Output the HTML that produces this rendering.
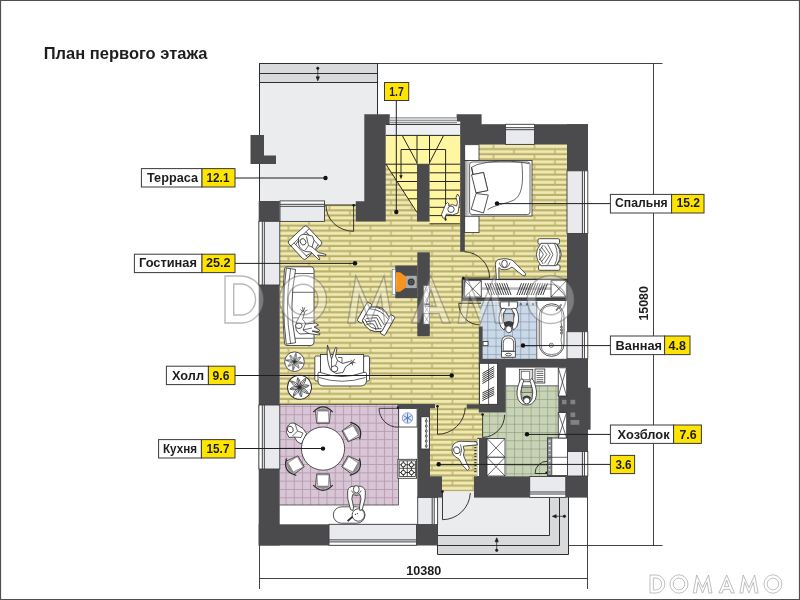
<!DOCTYPE html>
<html lang="ru">
<head>
<meta charset="utf-8">
<title>План первого этажа</title>
<style>
html,body{margin:0;padding:0;background:#fff;width:800px;height:600px;overflow:hidden}
svg{display:block;position:absolute;left:0;top:0;will-change:transform;opacity:.9999}
text{font-family:"Liberation Sans",sans-serif;font-weight:bold;fill:#1d1d1f}
.w{fill:#4b4a4d}
.ln{stroke:#2a2a2c;stroke-width:1;fill:none}
.th{stroke:#2a2a2c;stroke-width:.7;fill:none}
.fw{fill:#fff;stroke:#2a2a2c;stroke-width:.8}
.win{fill:#e9eaec;stroke:#8d8e91;stroke-width:.6}
.lab{fill:#fff;stroke:#3a3a3c;stroke-width:1}
.yl{fill:#ffe400;stroke:#3a3a3c;stroke-width:1}
</style>
</head>
<body>
<svg width="800" height="600" viewBox="0 0 800 600">
<defs>
  <!-- wood floor -->
  <pattern id="wood" x="288.5" y="216.4" width="41" height="10.2" patternUnits="userSpaceOnUse">
    <rect width="41" height="10.2" fill="#b9af6c"/>
    <rect x="0.7" y="0" width="39.6" height="3.05" fill="#f0e9b0"/>
    <rect x="-19.8" y="5.1" width="39.6" height="3.05" fill="#f0e9b0"/>
    <rect x="21.2" y="5.1" width="39.6" height="3.05" fill="#f0e9b0"/>
  </pattern>
  <!-- kitchen tiles -->
  <pattern id="kit" x="285.5" y="406" width="8.2" height="8.3" patternUnits="userSpaceOnUse">
    <rect width="8.2" height="8.3" fill="#d8c5d5"/>
    <path d="M0.5 0V8.3M0 0.5H8.2" stroke="#b89db2" stroke-width="1" fill="none"/>
  </pattern>
  <!-- bath tiles -->
  <pattern id="bath" x="487.3" y="305.2" width="8.25" height="8.12" patternUnits="userSpaceOnUse">
    <rect width="8.25" height="8.12" fill="#c9d9e9"/>
    <path d="M0.5 0V8.12M0 0.5H8.25" stroke="#8695a4" stroke-width=".65" fill="none"/>
  </pattern>
  <!-- utility tiles -->
  <pattern id="util" x="514" y="407.2" width="8.3" height="8.27" patternUnits="userSpaceOnUse">
    <rect width="8.3" height="8.27" fill="#c7d3b4"/>
    <path d="M0.5 0V8.27M0 0.5H8.3" stroke="#8b977e" stroke-width=".6" fill="none"/>
  </pattern>

  <g id="arm">
    <rect class="fw" x="-10.5" y="-15.8" width="21.5" height="5.4" rx="1.3"/>
    <rect class="fw" x="-10" y="10.4" width="21.5" height="5.4" rx="1.3"/>
    <path class="fw" d="M-7.5 -11.2Q-16.8 0 -7.5 11.2H7.5Q18 0 7.5 -11.2Z"/>
    <path class="th" d="M-5.3 -9.6Q-13.3 0 -5.3 9.6" stroke-width=".6"/>
    <path class="th" d="M6 -11Q11.5 0 6 11M8.5 -10.3Q14.5 0 8.5 10.3" stroke-width=".6"/>
    <path class="th" stroke-width=".7" d="M-9.5 -5.5Q-7 -4.5 -5.2 0Q-7 4.5 -9.5 5.5M-7 -7.3L-1.6 0L-7 7.3M-4 -8.8L1.8 0L-4 8.8M-0.8 -10.3L4.5 0L-0.8 10.3"/>
  </g>
  <g id="kchair">
    <path d="M-7.3 -5.5Q0 -11.5 7.3 -5.5L5.6 -5.4H-5.6Z" fill="#8e8e90"/>
    <path d="M-9.7 -4.6Q0 -15 9.7 -4.6" fill="none" stroke="#2a2a2c" stroke-width="1.3"/>
    <path class="th" d="M-7.6 -5.7L-6.3 6.6H6.3L7.6 -5.7" stroke="#3a3a3c"/>
    <path d="M-5.3 -5.6H5.3L6 5.6H-6Z" fill="#fff" stroke="#6d6e71" stroke-width=".6"/>
  </g>
  <g id="plant">
    <circle r="10" fill="#fff" stroke="#2a2a2c" stroke-width=".8"/>
    <path d="M0 0Q4.1 3.4 9.2 1.6Q5.0 -1.8 0 0M0 0L7.8 1.4M0 0Q0.2 4.8 4.7 6.7Q4.5 1.9 0 0M0 0L4.0 5.7M0 0Q-3.4 4.1 -1.6 9.2Q1.8 5.0 0 0M0 0L-1.4 7.8M0 0Q-4.8 0.2 -6.7 4.7Q-1.9 4.5 0 0M0 0L-5.7 4.0M0 0Q-4.1 -3.4 -9.2 -1.6Q-5.0 1.8 0 0M0 0L-7.8 -1.4M0 0Q-0.2 -4.8 -4.7 -6.7Q-4.5 -1.9 0 0M0 0L-4.0 -5.7M0 0Q3.4 -4.1 1.6 -9.2Q-1.8 -5.0 0 0M0 0L1.4 -7.8M0 0Q4.8 -0.2 6.7 -4.7Q1.9 -4.5 0 0M0 0L5.7 -4.0" fill="#fff" stroke="#2a2a2c" stroke-width=".55"/>
  </g>
  <filter id="blr" x="-5%" y="-10%" width="110%" height="120%"><feGaussianBlur stdDeviation="1.5"/></filter>
  <g id="wD"><path fill-rule="evenodd" d="M0 0H34A48 50 0 0 1 34 100H0ZM18.5 17V83H34A31 33 0 0 0 34 17Z"/></g>
  <g id="wO"><path fill-rule="evenodd" d="M50 -1A50 51 0 1 0 50 101A50 51 0 1 0 50 -1ZM50 17.5A32 32.5 0 1 1 50 82.5A32 32.5 0 1 1 50 17.5Z"/></g>
  <g id="wM"><path d="M0 100L17.5 0L47.5 70L77.5 0L95 100H79L70.5 40L47.5 100L24.5 40L16 100Z"/></g>
  <g id="wA"><path fill-rule="evenodd" d="M0 100L41 0L82 100H65.5L58.5 80H23.5L16.5 100ZM29.5 64.5H52.5L41 28Z"/></g>
  <g id="wms">
    <use href="#wD" x="0"/><use href="#wO" x="111"/><use href="#wM" transform="translate(240 0) scale(1.1 1)"/><use href="#wA" transform="translate(383 0) scale(1.05 1)"/><use href="#wM" transform="translate(499 0) scale(1.07 1)"/><use href="#wO" x="633"/>
  </g>
  <g id="wm">
    <use href="#wD" x="0"/><use href="#wO" x="116"/><use href="#wM" x="261"/><use href="#wA" x="397"/><use href="#wM" x="496"/><use href="#wO" x="643"/>
  </g>
</defs>

<!-- page -->
<rect x="0" y="0" width="800" height="600" fill="#fff"/>

<!-- ===== TERRACE ===== -->
<g id="terrace">
  <rect x="259" y="63" width="118" height="138.5" fill="#ebecee"/>
  <rect x="259" y="63" width="118" height="19.5" fill="#d9dadc"/>
  <path d="M259 63.5H377.5M259 73.5H377.5M259 82.5H377.5M259.5 63V201M377.5 63V115" stroke="#2f2f31" stroke-width="1" fill="none"/>
</g>

<!-- ===== PORCH ===== -->
<g id="porch">
  <rect x="437.5" y="497" width="131" height="57.5" fill="#d9dadc"/>
  <rect x="437.5" y="497" width="112" height="38.5" fill="#ebecee"/>
  <path d="M437.5 497V554.5H568.5V497M437.5 535.5H549.5V497M437.5 545.5H559.5V497" stroke="#2f2f31" stroke-width="1" fill="none"/>
</g>

<!-- ===== FLOORS ===== -->
<g id="floors">
  <!-- living / hall wood -->
  <rect x="279.5" y="221" width="151" height="184" fill="url(#wood)"/>
  <rect x="324.5" y="201" width="33" height="4" fill="#ebecee"/>
  <rect x="324.5" y="204.8" width="33" height="18" fill="url(#wood)"/>
  <rect x="385" y="163" width="76" height="243" fill="url(#wood)"/>
  <rect x="429" y="250" width="53" height="156" fill="url(#wood)"/>
  <!-- bedroom -->
  <rect x="464" y="144.3" width="103" height="136" fill="url(#wood)"/>
  <!-- entry -->
  <rect x="430" y="404" width="52" height="73" fill="url(#wood)"/>
  <rect x="442" y="476" width="32" height="15.5" fill="url(#wood)"/>
  <!-- stairs -->
  <rect x="385.7" y="124.2" width="75" height="10.8" fill="#eef0f3"/>
  <path d="M385.7 135H459.9V223.8H429.5V163.8H417V212.5L385.7 163.8Z" fill="#fff6a2"/>
  <!-- kitchen -->
  <rect x="279.5" y="404.4" width="119" height="100.8" fill="url(#kit)"/>
  <rect x="279.5" y="505" width="138" height="19.5" fill="#fff"/>
  <rect x="398.5" y="407" width="19" height="100" fill="#fff"/>
  <!-- bath -->
  <rect x="480.8" y="301.5" width="56" height="57.5" fill="url(#bath)"/>
  <rect x="536.8" y="301.5" width="30.5" height="57.5" fill="#fff"/>
  <!-- utility -->
  <rect x="505.7" y="385.5" width="53" height="91" fill="url(#util)"/>
  <rect x="482.5" y="412.3" width="24" height="25.7" fill="url(#util)"/>
  <rect x="505.7" y="367.6" width="61" height="18.2" fill="#fff"/>
</g>

<!-- ===== WALLS ===== -->
<g id="walls" class="w">
  <!-- terrace post -->
  <path d="M250.5 135H264V155.5H276V164H250.5Z"/>
  <!-- left wall -->
  <rect x="258.7" y="201" width="21" height="344.5"/>
  <!-- bottom-left wall -->
  <rect x="258.7" y="524.3" width="179" height="21.2"/>
  <!-- column between terrace & stairs -->
  <path d="M364.3 114.3H389.8V124.2H385.7V221.4H355.8V201.2H364.3Z"/>
  <!-- block top of stair/bedroom -->
  <path d="M456.6 114.2H481.6V125H460.2V121.5H456.6Z"/>
  <!-- bedroom top wall -->
  <rect x="460.7" y="124.2" width="127.3" height="20.2"/>
  <!-- right wall -->
  <rect x="567" y="124.2" width="21" height="372.5"/>
  <!-- thin wall stairs/bedroom -->
  <rect x="460.2" y="124.2" width="4.6" height="127.5"/>
  <!-- stair core -->
  <rect x="417" y="163.8" width="12.5" height="57.7"/>
  <!-- fireplace wall -->
  <rect x="417.3" y="252.3" width="12.5" height="84"/>
  <!-- wardrobe/bath wall -->
  <rect x="461.5" y="278.5" width="106" height="22.5"/>
  <!-- bath left wall -->
  <rect x="478.8" y="326.5" width="3.8" height="33"/>
  <!-- bath bottom wall -->
  <rect x="478.8" y="358.8" width="109" height="8.8"/>
  <!-- closet / utility left wall -->
  <rect x="478.8" y="362" width="27" height="50.5"/>
  <rect x="558.3" y="395.5" width="9" height="17.5"/>
  <!-- utility right bump -->
  <rect x="587" y="387.7" width="3.6" height="42"/>
  <!-- kitchen right wall -->
  <rect x="417.3" y="404.3" width="12.7" height="94"/>
  <rect x="417.3" y="524.3" width="20.2" height="20.7"/>
  <rect x="397.5" y="404" width="37.5" height="4.2"/>
  <!-- entry -->
  
  <rect x="466.7" y="404.3" width="14" height="4.4"/>
  <rect x="418.4" y="476.3" width="23.6" height="21.3"/>
  <rect x="474" y="476.3" width="114" height="21.3"/>
  <rect x="477.3" y="437.8" width="10" height="40"/>
</g>

<!-- ===== WINDOWS ===== -->
<g id="windows">
  <rect x="280.0" y="200.9" width="44.5" height="20.5" fill="#e9eaee"/>
  <rect x="280.0" y="200.9" width="44.5" height="5.4" fill="#fff"/>
  <path d="M280.0 204.3H324.5M280.0 206.3H324.5" stroke="#3e3e42" stroke-width="1" fill="none"/>
  <rect x="280.0" y="200.9" width="44.5" height="20.5" fill="none" stroke="#3c3c40" stroke-width=".9"/>
  <rect x="258.9" y="221.3" width="20.9" height="63.7" fill="#e9eaee"/>
  <rect x="258.9" y="221.3" width="5.4" height="63.7" fill="#fff"/>
  <path d="M262.3 221.3V285.0M264.3 221.3V285.0" stroke="#3e3e42" stroke-width="1" fill="none"/>
  <rect x="258.9" y="221.3" width="20.9" height="63.7" fill="none" stroke="#3c3c40" stroke-width=".9"/>
  <rect x="258.9" y="405.0" width="20.9" height="64.0" fill="#e9eaee"/>
  <rect x="258.9" y="405.0" width="5.4" height="64.0" fill="#fff"/>
  <path d="M262.3 405.0V469.0M264.3 405.0V469.0" stroke="#3e3e42" stroke-width="1" fill="none"/>
  <rect x="258.9" y="405.0" width="20.9" height="64.0" fill="none" stroke="#3c3c40" stroke-width=".9"/>
  <rect x="329.0" y="524.3" width="87.5" height="21.0" fill="#e9eaee"/>
  <rect x="329.0" y="539.9" width="87.5" height="5.4" fill="#fff"/>
  <path d="M329.0 541.9H416.5M329.0 539.9H416.5" stroke="#3e3e42" stroke-width="1" fill="none"/>
  <rect x="329.0" y="524.3" width="87.5" height="21.0" fill="none" stroke="#3c3c40" stroke-width=".9"/>
  <rect x="505.5" y="124.3" width="29.0" height="20.1" fill="#e9eaee"/>
  <rect x="505.5" y="124.3" width="29.0" height="5.4" fill="#fff"/>
  <path d="M505.5 127.7H534.5M505.5 129.7H534.5" stroke="#3e3e42" stroke-width="1" fill="none"/>
  <rect x="505.5" y="124.3" width="29.0" height="20.1" fill="none" stroke="#3c3c40" stroke-width=".9"/>
  <rect x="567.0" y="170.8" width="20.8" height="62.7" fill="#e9eaee"/>
  <rect x="582.4" y="170.8" width="5.4" height="62.7" fill="#fff"/>
  <path d="M584.4 170.8V233.5M582.4 170.8V233.5" stroke="#3e3e42" stroke-width="1" fill="none"/>
  <rect x="567.0" y="170.8" width="20.8" height="62.7" fill="none" stroke="#3c3c40" stroke-width=".9"/>
  <rect x="567.0" y="331.7" width="20.8" height="27.0" fill="#e9eaee"/>
  <rect x="582.4" y="331.7" width="5.4" height="27.0" fill="#fff"/>
  <path d="M584.4 331.7V358.7M582.4 331.7V358.7" stroke="#3e3e42" stroke-width="1" fill="none"/>
  <rect x="567.0" y="331.7" width="20.8" height="27.0" fill="none" stroke="#3c3c40" stroke-width=".9"/>
  <rect x="567.0" y="451.5" width="20.8" height="24.5" fill="#e9eaee"/>
  <rect x="582.4" y="451.5" width="5.4" height="24.5" fill="#fff"/>
  <path d="M584.4 451.5V476.0M582.4 451.5V476.0" stroke="#3e3e42" stroke-width="1" fill="none"/>
  <rect x="567.0" y="451.5" width="20.8" height="24.5" fill="none" stroke="#3c3c40" stroke-width=".9"/>
  <rect x="529.7" y="476.5" width="36.1" height="20.9" fill="#e9eaee"/>
  <rect x="529.7" y="492.0" width="36.1" height="5.4" fill="#fff"/>
  <path d="M529.7 494.0H565.8M529.7 492.0H565.8" stroke="#3e3e42" stroke-width="1" fill="none"/>
  <rect x="529.7" y="476.5" width="36.1" height="20.9" fill="none" stroke="#3c3c40" stroke-width=".9"/>
  <rect x="417.7" y="497.4" width="19.9" height="27.2" fill="#e9eaee"/>
  <rect x="432.2" y="497.4" width="5.4" height="27.2" fill="#fff"/>
  <path d="M434.2 497.4V524.6M432.2 497.4V524.6" stroke="#3e3e42" stroke-width="1" fill="none"/>
  <rect x="417.7" y="497.4" width="19.9" height="27.2" fill="none" stroke="#3c3c40" stroke-width=".9"/>
  <!-- stair top window -->
  <rect x="389.8" y="117.6" width="67.2" height="6.8" fill="#e9eaee"/>
  <path d="M389.8 117.8H457M389.8 120.3H457M389.8 122.4H457" stroke="#5a5b5f" stroke-width=".7" fill="none"/>
  <!-- porch threshold -->
  <rect x="442" y="491.3" width="32" height="6.5" fill="#ebecee"/>
</g>

<!-- FURNITURE PLACEHOLDER -->
<g id="furniture">
<!-- stairs lines -->
<g fill="none" stroke="#26261e" stroke-width="1">
  <path d="M385.7 135.4H459.9M385.7 124.4H459.9" />
  <path d="M417 135.4V163.8M429.5 135.4V163.8M402.3 135.6L417 162.8M443.5 135.6L429.5 162.8"/>
  <path d="M385.7 164.2H417M429.5 164.2H459.9"/>
  <path d="M391.5 172.8H417M397 181.5H417M402.6 190.1H417M408.2 198.8H417"/>
  <path d="M429.5 172.8H459.9M429.5 181.5H459.9M429.5 190.1H459.9M429.5 198.8H459.9M429.5 207.3H459.9M429.5 215.6H459.9M429.5 223.8H459.9"/>
  <path d="M385.7 163.8L417 212.5"/>
  <path d="M401 176V149.5H445.6V219"/>
</g>
<path d="M399.3 175.2H402.7L401 179.2Z" fill="#1d1d1f"/>
<circle cx="445.6" cy="219.6" r="1.1" fill="#111"/>
<!-- doors -->
<g fill="none" stroke="#26261e" stroke-width=".9">
  <path d="M325 205H356.5M353.6 205V231.3M326 205.3A27.6 26 0 0 0 353.6 231.3"/>
  <path d="M463.5 278H489.5M464.4 251.7A26.3 26.3 0 0 1 489.6 278"/>
  <path d="M458.6 303.3H481M458.8 303.5A21.5 21.5 0 0 0 480.3 325"/>
  <path d="M379 408.3H398.3M379 408.5A19 19 0 0 0 398 427.2"/>
  <path d="M437.5 406.3V434.3A28 28 0 0 0 465.3 407.6"/>
  <path d="M482.6 414.5V437.8M504.6 414.8A22.5 22.5 0 0 1 483 437.4"/>
  <path d="M442.5 491.5V519.7A28 28 0 0 0 470.3 493"/>
  <path d="M535 473.5H547.3M535 473.5A12.3 12.3 0 0 1 547.3 461.2"/>
</g>
<g fill="#111">
  <circle cx="353.7" cy="205.2" r="1.2"/><circle cx="463.3" cy="278" r="1.3"/><circle cx="398" cy="407.8" r="1.2"/>
  <circle cx="437.5" cy="406.3" r="1.3"/><circle cx="482.6" cy="414.5" r="1.3"/><circle cx="442.5" cy="491.5" r="1.3"/>
  <circle cx="546.4" cy="472.6" r="1"/>
</g>
<!-- bedroom -->
<defs><linearGradient id="hb" x1="0" x2="1" y1="0" y2="0"><stop offset="0" stop-color="#9a9a9c"/><stop offset="1" stop-color="#fff"/></linearGradient></defs>
<rect class="fw" x="464.7" y="144.7" width="14.3" height="15.8" stroke-width=".6"/>
<rect class="fw" x="464.7" y="216" width="14.3" height="16.6" stroke-width=".6"/>
<rect class="fw" x="464.7" y="160.5" width="67.3" height="55.5"/>
<rect x="465" y="161" width="6" height="54.5" fill="url(#hb)"/>
<rect x="469.6" y="162" width="60.4" height="52.5" rx="2.5" fill="#fff" stroke="#2a2a2c" stroke-width=".7"/>
<path class="th" d="M471.5 167.3L477 164.6Q498 158.8 521.5 162.3M521.7 162.3L529 163.7M521.7 162.3C523.5 180 523 196 513 200.5C505 204 494 205 487.5 209.8" fill="none"/>
<path class="fw" stroke-width=".7" d="M471.5 167.3L473.2 174.5L483.5 172.5L487.8 190.5L476 192.8Z"/>
<path class="fw" stroke-width=".7" d="M471.5 174.8L483.5 172.5L487.8 190.5L476 192.8Z"/>
<path class="fw" stroke-width=".7" d="M476 193.5L488.3 195L483.5 213L471.2 209.3Z"/>
<use href="#arm" transform="translate(548.5 254.5)"/>
<!-- person bedroom -->
<g>
  <path class="fw" stroke-width=".8" d="M495.4 264.5Q495.6 259.6 500 259.3Q504.5 257.8 509 259.3Q512.5 259.6 514.5 262.2L525.6 273.8L525 276L522.6 275.4L512 267Q508 270 504.5 269.8Q500.6 270 498.9 267.6L498.9 280.6H496.5Z"/>
  <path class="th" stroke-width=".7" d="M499.5 262.5Q500 267.5 504.5 267.8Q509 267.5 509.8 262.5"/>
  <ellipse class="fw" stroke-width=".8" cx="504.5" cy="263.7" rx="2.8" ry="3.6"/>
</g>
<!-- wardrobe -->
<rect x="463" y="279.6" width="104" height="18.4" fill="#fff" stroke="#2a2a2c" stroke-width="1"/>
<rect x="481.3" y="287.3" width="69.7" height="2.6" fill="#b9babc"/>

<path class="fw" d="M464.6 280.6H481.3V297.0H464.6Z"/><path class="th" d="M464.6 280.6L481.3 297.0M481.3 280.6L464.6 297.0" stroke="#555"/>
<path class="fw" d="M551.0 280.6H566.4V297.0H551.0Z"/><path class="th" d="M551.0 280.6L566.4 297.0M566.4 280.6L551.0 297.0" stroke="#555"/>
<path d="M485.2 283.2L489.8 295.0M487.6 283.2L492.2 295.0M489.9 283.2L494.5 295.0M492.3 283.2L496.9 295.0M494.7 283.2L499.3 295.0M497.0 283.2L501.6 295.0M499.4 283.2L504.0 295.0M501.8 283.2L506.4 295.0M504.1 283.2L508.7 295.0M506.5 283.2L511.1 295.0" stroke="#2a2a2c" stroke-width="0.9" fill="none"/>
<path d="M521.5 283.2L516.9 295.0M523.9 283.2L519.3 295.0M526.2 283.2L521.6 295.0M528.6 283.2L524.0 295.0M531.0 283.2L526.4 295.0M533.3 283.2L528.7 295.0M535.7 283.2L531.1 295.0M538.0 283.2L533.4 295.0M540.4 283.2L535.8 295.0M542.8 283.2L538.2 295.0M545.1 283.2L540.5 295.0M547.5 283.2L542.9 295.0" stroke="#2a2a2c" stroke-width="0.9" fill="none"/>
<!-- bath -->
<path class="th" d="M536.8 301.5V359"/>
<rect x="539.2" y="303.8" width="24.8" height="52.5" rx="12.2" fill="#fff" stroke="#2a2a2c" stroke-width=".8"/>
<path d="M541.2 316Q541 305.6 551.6 305.6Q562 305.6 562 316L561 322Q563.5 331 561 340L562 345Q562 354.5 551.6 354.5Q541.2 354.5 541.2 345Z" fill="none" stroke="#2a2a2c" stroke-width=".6"/>
<circle cx="551.3" cy="345.3" r="2.1" fill="#fff" stroke="#2a2a2c" stroke-width=".6"/><circle cx="551.3" cy="345.3" r=".8" fill="#555"/>
<path d="M556 310.5L561.5 304.5" stroke="#2a2a2c" stroke-width="1.4"/><path d="M556 310.5L561.5 304.5" stroke="#fff" stroke-width=".6"/>
<circle cx="561.4" cy="327" r=".9" class="fw" stroke-width=".5"/><circle cx="561.4" cy="330" r=".9" class="fw" stroke-width=".5"/><circle cx="561.4" cy="333" r=".9" class="fw" stroke-width=".5"/>
<!-- toilet -->
<path class="fw" d="M501.5 357.3V343Q501.5 335.8 508.4 335.8Q515.4 335.8 515.4 343V357.3Z"/>
<path class="fw" stroke-width=".6" d="M503.2 351V343.5Q503.2 338 508.4 338Q513.7 338 513.7 343.5V351Z"/>
<path class="th" d="M501.5 351.5H515.4"/>
<ellipse cx="508.4" cy="354.6" rx="3" ry="1.3" class="fw" stroke-width=".6"/>
<rect x="483" y="341.5" width="5" height="4.2" class="fw" stroke-width=".5" fill="#ddd"/>
<!-- sink + person -->
<path class="fw" stroke-width=".7" d="M500.2 301.8H517.6V306Q517.6 308.8 514.8 308.8H503Q500.2 308.8 500.2 306Z"/><path d="M508.8 301.8V306.3" stroke="#2a2a2c" stroke-width="1.5"/><path d="M508.8 302V306" stroke="#fff" stroke-width=".6"/>
<path class="fw" stroke-width=".7" d="M502 308.5Q498.2 314 499.3 322Q500 328 504.2 330L505.8 325L503 314L506 309.5Q504.5 307.5 502 308.5ZM515.6 308.5Q519.4 314 518.3 322Q517.6 328 513.4 330L511.8 325L514.6 314L511.6 309.5Q513.2 307.5 515.6 308.5Z"/>
<rect x="503.8" y="313.8" width="10" height="8.6" fill="#c3ccd6" stroke="#2a2a2c" stroke-width=".6"/>
<path d="M503.6 322.5Q508.8 319.5 514 322.5L513 326Q508.8 328.5 504.5 326Z" fill="#3a3a3c"/>
<ellipse class="fw" stroke-width=".7" cx="508.7" cy="329.3" rx="3.1" ry="3.5"/>
<circle cx="520.8" cy="304.2" r=".7" class="fw" stroke-width=".4"/><circle cx="527" cy="304.2" r=".7" class="fw" stroke-width=".4"/><circle cx="533" cy="304.2" r=".7" class="fw" stroke-width=".4"/>

<!-- hall closet --><rect class="fw" x="479.6" y="363.3" width="18" height="41"/><path class="th" d="M488.6 363.3V404.3"/>
<path d="M482.4 373.5L494.2 366.5M482.4 375.5L494.2 368.5M482.4 377.5L494.2 370.5M482.4 379.5L494.2 372.5M482.4 381.5L494.2 374.5M482.4 383.5L494.2 376.5" stroke="#2a2a2c" stroke-width="0.9" fill="none"/>
<path d="M482.4 393.0L494.2 387.0M482.4 394.9L494.2 388.9M482.4 396.8L494.2 390.8M482.4 398.6L494.2 392.6M482.4 400.5L494.2 394.5" stroke="#2a2a2c" stroke-width="0.9" fill="none"/>
<!-- utility -->
<path class="th" d="M505.7 385.8H558.3"/>
<rect x="519.3" y="369.3" width="13.5" height="12.5" fill="#d9dadc" stroke="#2a2a2c" stroke-width=".7"/>
<rect x="521.3" y="371.3" width="8" height="8.5" fill="#fff" stroke="#2a2a2c" stroke-width=".5"/>
<rect x="535" y="369" width="9.8" height="14" class="fw" stroke-width=".6"/>
<path class="th" stroke-width=".6" d="M536.5 371.3H543.3M536.5 373.4H543.3M536.5 375.5H543.3M536.5 377.6H543.3M536.5 379.7H543.3M536.5 381.6H543.3"/>
<path class="fw" stroke-width=".7" d="M520 380.5L522 378.5L523.7 381L522.5 384Q519.5 392 521.5 399Q523 403 526.7 403.5Q530.5 403 532 399Q534 392 531 384L529.8 381L531.5 378.5L533.5 380.5Q538.5 392 535.3 399.5Q532.5 405 526.7 405Q521 405 518.2 399.5Q515 392 520 380.5Z"/>
<rect x="521.6" y="387.5" width="10.4" height="5" fill="#b3bea4" stroke="#2a2a2c" stroke-width=".5"/><path d="M522.5 397.5Q526.7 393.5 531 397.5L530 400.5Q526.7 399 523.5 400.5Z" fill="#3a3a3c"/>
<circle class="fw" stroke-width=".7" cx="526.7" cy="400.7" r="3.2"/>
<rect x="547.5" y="438" width="20" height="37.5" class="fw" stroke-width=".7"/>
<rect x="547.3" y="438" width="4.6" height="37.5" fill="#8f9092" stroke="#2a2a2c" stroke-width=".6"/>
<path class="th" d="M547.5 457.3H567.5"/>
<path d="M549.6 440.5V455M549.6 460V474" stroke="#eee" stroke-width="1.6" stroke-dasharray="1.4 3.2"/>
<g fill="#828284"><rect x="562" y="399.8" width="4.5" height="4.5"/><rect x="570.5" y="399.8" width="4.7" height="4.5"/><rect x="570.5" y="412.5" width="4.7" height="4.5"/><rect x="570.5" y="420" width="8.8" height="4.8"/></g>

<path class="fw" d="M558.3 367.8H566.6V396.0H558.3Z"/><path class="th" d="M558.3 367.8L566.6 396.0M566.6 367.8L558.3 396.0" stroke="#555"/>
<path class="fw" d="M558.3 412.5H566.6V438.0H558.3Z"/><path class="th" d="M558.3 412.5L566.6 438.0M566.6 412.5L558.3 438.0" stroke="#555"/>
<!-- entry -->
<rect x="421" y="416.8" width="8.3" height="32.2" class="fw" stroke-width=".7"/>
<path class="th" d="M426.3 418V448" stroke-width=".5"/>
<g class="fw" stroke-width=".5"><circle cx="426.3" cy="421" r="1"/><circle cx="426.3" cy="426" r="1"/><circle cx="426.3" cy="431" r="1"/><circle cx="426.3" cy="436" r="1"/><circle cx="426.3" cy="441" r="1"/><circle cx="426.3" cy="446" r="1"/></g>
<rect x="477.3" y="439" width="1.7" height="37" fill="#fff"/>
<path d="M475.4 441V474" stroke="#3a3a3c" stroke-width="2.2" stroke-dasharray="1.3 1.7"/>

<path class="fw" d="M487.0 438.5H505.0V457.3H487.0Z"/><path class="th" d="M487.0 438.5L505.0 457.3M505.0 438.5L487.0 457.3" stroke="#555"/>
<path class="fw" d="M487.0 457.3H505.0V476.0H487.0Z"/><path class="th" d="M487.0 457.3L505.0 476.0M505.0 457.3L487.0 476.0" stroke="#555"/>
<g>
  <path class="fw" stroke-width=".8" d="M452.2 447.5Q453.5 442 460 441.3L476.6 441.8L477.4 444.8L463.2 446.2Q465.2 450.5 463.4 455.2L466.2 462L469.5 468.4L467.4 470.4L463.2 466L458.8 458.8Q450.8 455.5 452.2 447.5Z"/>
  <path class="th" stroke-width=".7" d="M460.5 444.5Q463 450 460 456"/>
  <ellipse class="fw" stroke-width=".8" cx="456.8" cy="450.3" rx="3" ry="3.5" transform="rotate(-20 456.8 450.3)"/>
</g>
<!-- living -->
<g transform="translate(305.2 242.8) rotate(-133)">
  <rect class="fw" x="-12.3" y="-12.6" width="25" height="25.2" rx="2.5"/>
  <path class="th" stroke-width=".6" d="M-12.3 -8.2H7.5M-12.3 8.2H7.5M7.5 -12.6V12.6"/>
  <path class="th" stroke-width=".6" d="M-10 -8.2Q-13.5 0 -10 8.2M5 -8.2Q8 0 5 8.2"/>
</g>
<g>
  <path class="fw" stroke-width=".7" d="M298.5 238Q301 233.5 306 234.5L312.5 236L314 240.5L312 247L318.5 252.5L326 254.5L325.5 256L317.5 255L320 259L319 260L311 252L305.5 251.5Q299 249 298.5 243.5Z"/>
  <path class="th" stroke-width=".6" d="M306.5 236.5L308.5 245.5L305 250.5M312 247L308.5 245.5"/>
  <ellipse class="fw" stroke-width=".7" cx="303" cy="241.8" rx="2.7" ry="3.3" transform="rotate(-35 303 241.8)"/>
</g>
<use href="#arm" transform="translate(375.8 319.3) rotate(-60.5)"/>
<!-- sofa 1 -->
<g>
  <path class="fw" d="M287 266.8H311Q314 266.8 314 270V342Q314 345.5 311 345.5H287Q284.6 345.5 284.5 343Q281.3 306 284.5 269Q284.6 266.8 287 266.8Z"/>
  <path class="fw" stroke-width=".7" d="M286.3 268L295.6 269.5Q288.3 306 295.6 342.7L286.3 344.2Q281.2 306 286.3 268Z"/>
  <path class="th" stroke-width=".6" d="M290.6 268.7Q284.3 306 290.6 343.5"/>
  <path class="th" stroke-width=".6" d="M295 273.5H313.5M292.3 292.3H313.5M292.3 317.8H313.5M295 338.3H313.5"/>
</g>
<g>
  <path class="fw" stroke-width=".7" d="M296.5 322Q300 315 302.5 311L304.5 312.5L302.5 319.5Q305 321 305.5 324L315.5 323L318.5 325L314 327L319.5 330L319 331.5L312 331L320 333.5L319.5 335L309 333.5L300 334Q294 331 296.5 322Z"/>
  <path class="th" stroke-width=".6" d="M305.5 324L303 330L309 333.5M303 330L312 328"/>
  <path d="M300.5 309.5L302.8 311.5M304.8 307.3L303.5 311M307.5 309.8L304.3 311.8M302.5 307L303.3 311" stroke="#2a2a2c" stroke-width=".7"/>
  <ellipse class="fw" stroke-width=".7" cx="298.8" cy="325.8" rx="3.3" ry="2.7"/>
</g>
<!-- plants -->
<use href="#plant" transform="translate(294.5 361.7) scale(.98)"/>
<use href="#plant" transform="translate(299.5 387.3) scale(1.2) rotate(25)"/>
<!-- sofa 2 -->
<g>
  <rect class="fw" x="314.8" y="356" width="6" height="25" rx="1.5"/>
  <rect class="fw" x="363.5" y="356" width="6" height="25" rx="1.5"/>
  <rect class="fw" x="320.5" y="354.5" width="43.2" height="24" />
  <path class="fw" d="M318 373.5Q318 371.5 320.5 372.5Q342 380.5 363.5 372.5Q366.5 371.5 366.5 373.5V380.5Q366.5 386 360 386H324Q318 386 318 380.5Z"/>
  <path class="th" stroke-width=".6" d="M319 377.5Q342 385 365.5 377.5"/>
</g>
<g>
  <path class="fw" stroke-width=".7" d="M327.5 345L329.5 351.5L331.5 359L335.5 347.5L337 348L335.5 356L337.5 360.5L342.5 363.5L349.5 361.5L352 362.5L345.5 367L343 372.5L336 373.5L330.5 370Q326 360 327.5 345Z"/>
  <path class="th" stroke-width=".6" d="M331.5 359L331.5 368M337.5 360.5L335 367M338 357.5H342V363"/>
  <path d="M350.5 360L353.5 362M354.5 359L352.8 362.3M349.5 363.8L353 362.8M355.5 362.8L352.8 362.5M352.5 365.3V362.6" stroke="#2a2a2c" stroke-width=".7"/>
  <ellipse class="fw" stroke-width=".7" cx="334.5" cy="368.8" rx="3.3" ry="3"/>
</g>
<!-- fireplace -->
<rect x="395.2" y="265.5" width="22.2" height="32.7" fill="#4b4a4d"/>
<rect x="392.2" y="269.3" width="3.2" height="25.4" fill="#fff" stroke="#5b7bb5" stroke-width=".6"/>
<path d="M395.8 272.3H400L406 276.5V287.5L400 291.7H395.8Z" fill="#f7941d"/>
<path d="M395.8 274Q398 282 395.8 290Z" fill="#fbb040"/>
<rect x="406" y="275.8" width="10.8" height="12.3" fill="#a7a9ac"/>
<circle cx="411.2" cy="282" r="3.5" fill="#3a3a3c"/><circle cx="411.2" cy="282" r="1.6" fill="none" stroke="#77787b" stroke-width=".6"/>
<!-- radiator in fireplace wall -->
<rect x="423.7" y="285.8" width="6" height="18" fill="#fff" stroke="#77787b" stroke-width=".5"/>
<rect x="423.7" y="304.7" width="6" height="19.3" fill="#fff" stroke="#77787b" stroke-width=".5"/>
<path d="M423.7 285.8L429.7 294.8L423.7 303.8M429.7 285.8L423.7 294.8L429.7 303.8M423.7 304.7L429.7 314.3L423.7 324M429.7 304.7L423.7 314.3L429.7 324" stroke="#77787b" stroke-width=".5" fill="none"/>

<!-- kitchen -->
<path class="th" d="M279.5 404.4H398M279.5 505H398.5M398.5 407V505"/>
<use href="#kchair" transform="translate(323.0 416.7) rotate(0)"/>
<use href="#kchair" transform="translate(350.9 433.1) rotate(61)"/>
<use href="#kchair" transform="translate(350.6 464.6) rotate(120)"/>
<use href="#kchair" transform="translate(323.0 480.5) rotate(180)"/>
<use href="#kchair" transform="translate(295.4 464.6) rotate(240)"/>
<g>
  <path class="fw" stroke-width=".7" d="M287 427.5Q290 421.5 295 423.5L303 428.5L306.5 433.5L301.5 444L297 441.5L294.5 437L289 437.5Q285 433 287 427.5Z"/>
  <path class="th" stroke-width=".6" d="M295 423.5L297.5 431L292.5 436M297.5 431L303 433L301 437.5L294.5 437"/>
  <ellipse class="fw" stroke-width=".7" cx="290.3" cy="429.5" rx="2.8" ry="3.4" transform="rotate(-25 290.3 429.5)"/>
</g>
<circle class="fw" cx="323" cy="448.6" r="21.6" stroke-width=".9"/>
<!-- fridge / counter / stove -->
<rect class="fw" x="398.7" y="408.6" width="18.4" height="18.4" stroke-width=".7"/>
<circle cx="407.5" cy="418" r="5.3" fill="#dfe6f5" stroke="#6f8fd0" stroke-width=".7"/>
<path d="M407.5 413.3V422.7M403.4 415.6L411.6 420.4M403.4 420.4L411.6 415.6" stroke="#4f73c4" stroke-width=".9"/>
<rect x="397.9" y="459.3" width="18.7" height="19" fill="#fff" stroke="#2a2a2c" stroke-width=".8"/>
<path d="M399.2 460.8H415.4V476.5H399.2ZM407.3 460.8V476.5M399.2 468.3H415.4" fill="none" stroke="#2a2a2c" stroke-width=".8"/>
<g fill="#fff" stroke="#26261e" stroke-width="1"><circle cx="403.3" cy="464.8" r="2.1"/><circle cx="411.4" cy="464.8" r="2.1"/><circle cx="403.3" cy="472.5" r="2.1"/><circle cx="411.4" cy="472.5" r="2.1"/></g>
<path d="M399.5 464.8H401.2M405.4 464.8H409.3M413.5 464.8H415.2M399.5 472.5H401.2M405.4 472.5H409.3M413.5 472.5H415.2M403.3 461V462.7M403.3 466.9V470.4M403.3 474.6V476.3M411.4 461V462.7M411.4 466.9V470.4M411.4 474.6V476.3" stroke="#26261e" stroke-width=".9"/>
<!-- ironing -->
<rect class="fw" x="333.3" y="506.8" width="31.7" height="16.4" rx="8.2" stroke-width=".8"/>
<circle class="fw" cx="358.3" cy="515" r="6.2" stroke-width=".8"/>
<path d="M347.6 521.2L352.6 516.6" stroke="#2a2a2c" stroke-width="1.8"/>
<circle cx="355.5" cy="514.3" r=".6" fill="#2a2a2c"/><circle cx="357.3" cy="513.6" r=".6" fill="#2a2a2c"/>
<g>
  <path class="fw" stroke-width=".8" d="M347.6 493Q347.3 487.5 352 486.3L360.5 486.3Q365.6 487.5 365.4 493L365 499L362.3 509.5L359.8 510.5L359.5 507L361 498.5L360 494.5Q356.3 496.8 352.8 494.5L351.8 498.5L353.5 507L353 510.5L350.5 509.5L347.8 499Z"/>
  <path class="th" stroke-width=".7" d="M351.5 490.5Q352.5 494 356.3 494.3Q360 494 361.2 490.5"/>
  <ellipse class="fw" stroke-width=".8" cx="356.3" cy="489.3" rx="2.9" ry="3.7"/>
</g>
<!-- arrows -->
<g stroke="#1d1d1f" stroke-width=".7" fill="#1d1d1f">
  <path d="M317.8 68.3V79"/><path d="M316.2 76.8L317.8 80.8L319.4 76.8Z"/><circle cx="317.8" cy="68.3" r="1.2"/>
  <path d="M553.5 516.3H564.4"/><path d="M556.2 514.7L552.4 516.3L556.2 517.9Z"/><circle cx="564.4" cy="516.3" r="1.2"/>
  <path d="M496.7 539V550.3"/><path d="M495.1 541.8L496.7 537.8L498.3 541.8Z"/><circle cx="496.7" cy="550.3" r="1.2"/>
</g>
<!-- stairs person -->
<g>
  <path class="fw" stroke-width=".7" d="M441.5 214.5L443.5 209.5L445.5 204.5L447.5 202.5L449 204L448.5 205.5Q453 203.5 456.5 206L457.5 202.5L456 197.5L457.5 194L459.5 197L459.5 203.5L458 213Q453 216.5 446.5 214L444.5 218.5L442.8 217.8Z"/>
  <circle class="fw" stroke-width=".7" cx="451" cy="209.3" r="3.2"/>
</g>
<!--MORE-->
</g>

<!-- ===== DIMENSIONS ===== -->
<g id="dims" stroke="#2f2f31" stroke-width=".9" fill="none">
  <path d="M377 63.5H662.5M653.5 63.5V545.5M568.5 545.5H662.5"/>
  <path d="M259.5 545V589M587.5 497V589M259.5 578.5H587.5"/>
</g>
<text x="406.3" y="575" font-size="13" textLength="35" lengthAdjust="spacingAndGlyphs">10380</text>
<text transform="translate(648.3 320.6) rotate(-90)" font-size="13" textLength="34.4" lengthAdjust="spacingAndGlyphs">15080</text>

<!-- ===== LABELS ===== -->
<g id="labels">
  <text x="43.7" y="59" font-size="16.6" textLength="163.8" lengthAdjust="spacingAndGlyphs">План первого этажа</text>
  <path d="M235 178H325.5M235 263.4H355M235 375.5H451.7M235 448.5H323M610.4 203.6H497M610.4 345.6H523M610.4 434.4H527M610.4 464.4H438.7M396.3 100.5V212" stroke="#1f1f21" stroke-width="1" fill="none"/>
  <circle cx="325.5" cy="178.0" r="2.2" fill="#111"/>
  <circle cx="355.0" cy="263.3" r="2.2" fill="#111"/>
  <circle cx="451.7" cy="375.5" r="2.2" fill="#111"/>
  <circle cx="323.0" cy="448.6" r="2.2" fill="#111"/>
  <circle cx="497.0" cy="203.4" r="2.2" fill="#111"/>
  <circle cx="523.0" cy="345.5" r="2.2" fill="#111"/>
  <circle cx="527.0" cy="434.3" r="2.2" fill="#111"/>
  <circle cx="438.7" cy="464.3" r="2.2" fill="#111"/>
  <circle cx="396.3" cy="212.0" r="2.2" fill="#111"/>
  <rect class="lab" x="141.4" y="168.6" width="60.6" height="18.4"/>
  <rect class="yl" x="202.0" y="168.6" width="33.0" height="18.4"/>
  <text x="147.0" y="181.6" font-size="12.9" textLength="51.0" lengthAdjust="spacingAndGlyphs">Терраса</text>
  <text x="206.6" y="181.6" font-size="12.9" textLength="22.8" lengthAdjust="spacingAndGlyphs">12.1</text>
  <rect class="lab" x="134.4" y="254.2" width="67.6" height="18.4"/>
  <rect class="yl" x="202.0" y="254.2" width="33.0" height="18.4"/>
  <text x="139.0" y="267.0" font-size="12.9" textLength="58.0" lengthAdjust="spacingAndGlyphs">Гостиная</text>
  <text x="206.0" y="267.0" font-size="12.9" textLength="24.6" lengthAdjust="spacingAndGlyphs">25.2</text>
  <rect class="lab" x="166.4" y="366.2" width="42.0" height="18.4"/>
  <rect class="yl" x="208.4" y="366.2" width="26.6" height="18.4"/>
  <text x="172.0" y="379.6" font-size="12.9" textLength="32.0" lengthAdjust="spacingAndGlyphs">Холл</text>
  <text x="212.6" y="379.6" font-size="12.9" textLength="16.8" lengthAdjust="spacingAndGlyphs">9.6</text>
  <rect class="lab" x="158.6" y="439.6" width="42.8" height="18.4"/>
  <rect class="yl" x="201.4" y="439.6" width="33.6" height="18.4"/>
  <text x="163.0" y="453.4" font-size="12.9" textLength="34.0" lengthAdjust="spacingAndGlyphs">Кухня</text>
  <text x="206.6" y="453.4" font-size="12.9" textLength="22.8" lengthAdjust="spacingAndGlyphs">15.7</text>
  <rect class="lab" x="610.4" y="194.4" width="61.2" height="18.6"/>
  <rect class="yl" x="671.6" y="194.4" width="32.4" height="18.6"/>
  <text x="615.0" y="207.4" font-size="12.9" textLength="52.6" lengthAdjust="spacingAndGlyphs">Спальня</text>
  <text x="676.4" y="207.4" font-size="12.9" textLength="23.6" lengthAdjust="spacingAndGlyphs">15.2</text>
  <rect class="lab" x="610.4" y="336.0" width="54.2" height="18.6"/>
  <rect class="yl" x="664.6" y="336.0" width="25.4" height="18.6"/>
  <text x="615.6" y="350.0" font-size="12.9" textLength="46.4" lengthAdjust="spacingAndGlyphs">Ванная</text>
  <text x="668.6" y="350.0" font-size="12.9" textLength="17.4" lengthAdjust="spacingAndGlyphs">4.8</text>
  <rect class="lab" x="610.4" y="425.0" width="63.2" height="18.4"/>
  <rect class="yl" x="673.6" y="425.0" width="27.8" height="18.4"/>
  <text x="617.6" y="438.6" font-size="12.9" textLength="52.0" lengthAdjust="spacingAndGlyphs">Хозблок</text>
  <text x="679.4" y="438.6" font-size="12.9" textLength="17.2" lengthAdjust="spacingAndGlyphs">7.6</text>
  <rect class="yl" x="610.4" y="455.4" width="24.2" height="18.2"/>
  <text x="615.4" y="468.6" font-size="12.9" textLength="16.2" lengthAdjust="spacingAndGlyphs">3.6</text>
  <rect class="yl" x="384.5" y="82.5" width="24.2" height="18.0"/>
  <text x="389.3" y="95.8" font-size="12.9" textLength="14.5" lengthAdjust="spacingAndGlyphs">1.7</text>
</g>

<!-- watermarks -->
<g transform="translate(225 276) scale(.47)" fill="#fff" fill-opacity=".27" stroke="#58595b" stroke-opacity=".42" stroke-width="3" filter="url(#blr)"><use href="#wm"/></g>
<g transform="translate(650 575) scale(.18)" fill="#fff" stroke="#a6a8ab" stroke-width="4"><use href="#wms"/></g>

<!-- outer border -->
<path d="M0.5 0.5H799.5V599.5H0.5Z" fill="none" stroke="#4f4f51" stroke-width="1.2"/>
</svg>
</body>
</html>
